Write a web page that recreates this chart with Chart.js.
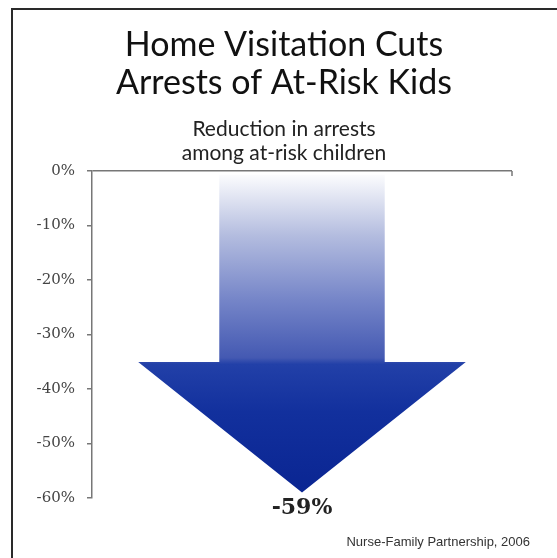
<!DOCTYPE html>
<html>
<head>
<meta charset="utf-8">
<script src="https://cdn.jsdelivr.net/npm/chart.js@4.4.1/dist/chart.umd.min.js"></script>
<style>
  html, body { margin: 0; padding: 0; background: #ffffff; }
  #wrap { width: 557px; height: 558px; position: relative; }
</style>
</head>
<body>
<div id="wrap"><canvas id="c" width="557" height="558"></canvas></div>
<script>
// ---- data ----
const categories = ["At-risk children"];
const reductionValues = [-59];
const yTickMin = -60;
const yTickMax = 0;
const yTickStep = 10;
const titleLines = ["Home Visitation Cuts", "Arrests of At-Risk Kids"];
const subtitleLines = ["Reduction in arrests", "among at-risk children"];
const sourceNote = "Nurse-Family Partnership, 2006";

// ---- plugins ----
const framePlugin = {
  id: 'frame',
  beforeDraw(chart) {
    const ctx = chart.ctx;
    ctx.save();
    ctx.fillStyle = '#ffffff';
    ctx.fillRect(0, 0, chart.width, chart.height);
    ctx.strokeStyle = '#2a2a2a';
    ctx.lineWidth = 2;
    ctx.beginPath();
    ctx.moveTo(12, chart.height);
    ctx.lineTo(12, 9);
    ctx.lineTo(chart.width, 9);
    ctx.stroke();
    ctx.restore();
  },
  afterDraw(chart) {
    const ctx = chart.ctx;
    ctx.save();
    ctx.fillStyle = '#333333';
    ctx.font = '13px "Liberation Sans", Arial, sans-serif';
    ctx.textAlign = 'right';
    ctx.textBaseline = 'alphabetic';
    ctx.fillText(sourceNote, 530, 546);
    const a = chart.chartArea;
    ctx.strokeStyle = '#777777';
    ctx.lineWidth = 1.5;
    ctx.beginPath();
    ctx.moveTo(a.right, a.top);
    ctx.lineTo(a.right, a.top + 5);
    ctx.stroke();
    ctx.restore();
  }
};

const arrowPlugin = {
  id: 'arrowBars',
  afterDatasetsDraw(chart) {
    const ctx = chart.ctx;
    const meta = chart.getDatasetMeta(0);
    meta.data.forEach((bar, i) => {
      const p = bar.getProps(['x', 'y', 'base', 'width'], true);
      const cx = p.x;
      const headHalf = p.width / 2;
      const shaftHalf = headHalf * 0.505;
      const top = p.base + 3;
      const tip = p.y;
      const len = tip - p.base;
      const headTop = p.base + len * (35 / 59);
      const g = ctx.createLinearGradient(0, p.base, 0, tip);
      g.addColorStop(0, '#ffffff');
      g.addColorStop(0.2, '#b3bcdf');
      g.addColorStop(0.4, '#7585c8');
      g.addColorStop(0.58, '#4459b2');
      g.addColorStop(0.6, '#2240a8');
      g.addColorStop(0.75, '#12309d');
      g.addColorStop(1, '#0a2592');
      ctx.save();
      ctx.fillStyle = g;
      ctx.beginPath();
      ctx.moveTo(cx - shaftHalf, top);
      ctx.lineTo(cx + shaftHalf, top);
      ctx.lineTo(cx + shaftHalf, headTop);
      ctx.lineTo(cx + headHalf, headTop);
      ctx.lineTo(cx, tip);
      ctx.lineTo(cx - headHalf, headTop);
      ctx.lineTo(cx - shaftHalf, headTop);
      ctx.closePath();
      ctx.fill();
      ctx.fillStyle = '#222222';
      ctx.font = 'bold 22px "DejaVu Serif", serif';
      ctx.textAlign = 'center';
      ctx.textBaseline = 'middle';
      ctx.fillText(reductionValues[i] + '%', cx, tip + 16);
      ctx.restore();
    });
  }
};

new Chart(document.getElementById('c'), {
  type: 'bar',
  data: {
    labels: categories,
    datasets: [{
      data: reductionValues,
      backgroundColor: 'rgba(0,0,0,0)',
      borderWidth: 0,
      barPercentage: 0.78,
      categoryPercentage: 1.0
    }]
  },
  options: {
    responsive: false,
    animation: false,
    devicePixelRatio: 1,
    layout: { padding: { left: 12, right: 1, bottom: 60, top: 0 } },
    plugins: {
      legend: { display: false },
      tooltip: { enabled: false },
      title: {
        display: true,
        text: titleLines,
        color: '#111111',
        font: { family: 'Lato, "Open Sans", sans-serif', size: 34, weight: 'normal', lineHeight: 1.09 },
        padding: { top: 27, bottom: 16 }
      },
      subtitle: {
        display: true,
        text: subtitleLines,
        color: '#222222',
        font: { family: 'Lato, "Open Sans", sans-serif', size: 21, weight: 'normal', lineHeight: 1.14 },
        padding: { top: 0, bottom: 6 }
      }
    },
    scales: {
      x: { display: false },
      y: {
        min: yTickMin,
        max: yTickMax,
        afterFit(scale) { scale.width = 80; },
        ticks: {
          stepSize: yTickStep,
          padding: 12,
          color: '#444444',
          font: { family: '"DejaVu Serif", serif', size: 15 },
          callback: v => v + '%'
        },
        grid: {
          drawOnChartArea: true,
          tickLength: 5,
          tickColor: '#777777',
          lineWidth: 1.5,
          color: ctx => (ctx.tick && ctx.tick.value === 0) ? '#777777' : 'rgba(0,0,0,0)'
        },
        border: { display: true, color: '#777777', width: 1.5 }
      },
      yRightSpace: {
        position: 'right',
        display: true,
        min: yTickMin,
        max: yTickMax,
        afterFit(scale) { scale.width = 44; },
        ticks: { display: false },
        grid: { display: false },
        border: { display: false }
      }
    }
  },
  plugins: [framePlugin, arrowPlugin]
});
</script>
</body>
</html>
